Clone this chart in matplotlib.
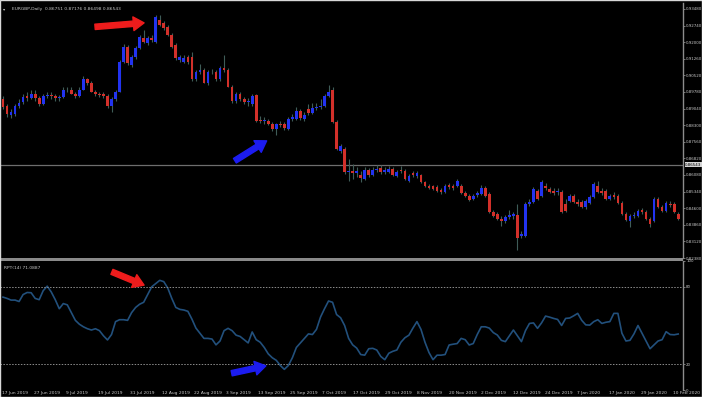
import numpy as np
import matplotlib
matplotlib.use('Agg')
import matplotlib.pyplot as plt
from matplotlib.patches import Rectangle

# ---- data (EURGBP daily, Jun 2019 - Feb 2020) ----
SYMBOL_TITLE = 'EURGBP,Daily  0.86751 0.87176 0.86498 0.86543'
OSC_TITLE = 'RPT(14) 71.0887'
LAST_PRICE = 0.8653
LAST_LABEL = '0.86543'

opens = [
    .8945, .8914, .8874, .8878, .8914, .8932, .8958, .8949, .8967, .8949,
    .8923, .8958, .8963, .8958, .8949, .8954, .8989, .8989, .8971, .8958,
    .8989, .9034, .9020, .8980, .8967, .8971, .8958, .8914, .8945, .8980,
    .9113, .9180, .9100, .9135, .9175, .9220, .9197, .9220, .9202, .9299,
    .9286, .9268, .9233, .9189, .9122, .9113, .9135, .9135, .9034, .9069,
    .9078, .9020, .9069, .9069, .9034, .9087, .9078, .9002, .8936, .8967,
    .8945, .8932, .8923, .8963, .8852, .8847, .8847, .8834, .8812, .8834,
    .8834, .8812, .8856, .8856, .8892, .8856, .8901, .8883, .8905, .8909,
    .8914, .8958, .8989, .8843, .8715, .8723, .8622, .8626, .8617, .8608,
    .8591, .8630, .8608, .8630, .8639, .8622, .8622, .8635, .8604, .8630,
    .8626, .8582, .8617, .8604, .8608, .8577, .8559, .8559, .8555, .8542,
    .8533, .8564, .8559, .8559, .8559, .8528, .8515, .8502, .8520, .8524,
    .8551, .8524, .8444, .8435, .8413, .8404, .8422, .8427, .8431, .8338,
    .8338, .8480, .8489, .8537, .8515, .8559, .8546, .8537, .8533, .8533,
    .8480, .8493, .8515, .8489, .8489, .8466, .8484, .8511, .8559, .8537,
    .8537, .8502, .8520, .8515, .8484, .8435, .8404, .8427, .8427, .8453,
    .8444, .8413, .8404, .8502, .8466, .8449, .8480, .8480, .8435,
]
highs = [
    .8958, .8923, .8901, .8923, .8945, .8967, .8976, .8989, .8989, .8958,
    .8967, .8976, .8976, .8967, .8963, .8998, .9002, .8998, .8980, .8998,
    .9047, .9042, .9029, .8989, .8980, .8980, .8967, .8954, .8989, .9122,
    .9193, .9189, .9144, .9184, .9233, .9255, .9228, .9233, .9321, .9321,
    .9295, .9277, .9242, .9197, .9144, .9144, .9144, .9158, .9078, .9104,
    .9087, .9078, .9082, .9078, .9096, .9144, .9087, .9011, .8976, .8976,
    .8954, .8949, .8967, .8971, .8870, .8865, .8856, .8843, .8839, .8847,
    .8843, .8865, .8878, .8909, .8901, .8887, .8923, .8927, .8927, .8945,
    .8967, .9007, .8998, .8852, .8746, .8732, .8679, .8657, .8644, .8626,
    .8644, .8639, .8644, .8653, .8653, .8644, .8648, .8644, .8630, .8648,
    .8635, .8613, .8626, .8626, .8613, .8582, .8568, .8564, .8564, .8551,
    .8568, .8573, .8568, .8591, .8568, .8537, .8524, .8524, .8537, .8564,
    .8559, .8533, .8453, .8444, .8427, .8431, .8453, .8444, .8480, .8360,
    .8489, .8502, .8555, .8546, .8586, .8573, .8555, .8551, .8551, .8542,
    .8502, .8524, .8524, .8502, .8497, .8502, .8520, .8577, .8582, .8551,
    .8546, .8524, .8533, .8524, .8493, .8444, .8435, .8444, .8458, .8462,
    .8453, .8422, .8511, .8511, .8475, .8493, .8493, .8489, .8444,
]
lows = [
    .8901, .8865, .8861, .8870, .8905, .8923, .8940, .8945, .8940, .8914,
    .8918, .8949, .8945, .8940, .8940, .8949, .8976, .8967, .8949, .8954,
    .8985, .9011, .8976, .8958, .8954, .8949, .8905, .8887, .8940, .8976,
    .9109, .9100, .9091, .9127, .9171, .9197, .9189, .9202, .9197, .9273,
    .9255, .9228, .9175, .9122, .9113, .9109, .9104, .9029, .9025, .9060,
    .9016, .9011, .9056, .9029, .9029, .9069, .8998, .8927, .8927, .8936,
    .8923, .8914, .8914, .8843, .8839, .8834, .8830, .8803, .8785, .8821,
    .8808, .8808, .8847, .8852, .8852, .8847, .8874, .8878, .8896, .8901,
    .8909, .8954, .8839, .8719, .8706, .8613, .8582, .8591, .8599, .8577,
    .8586, .8599, .8604, .8622, .8613, .8613, .8617, .8604, .8599, .8617,
    .8586, .8577, .8599, .8595, .8573, .8555, .8546, .8542, .8533, .8524,
    .8528, .8546, .8542, .8555, .8524, .8511, .8493, .8497, .8511, .8520,
    .8511, .8440, .8422, .8409, .8382, .8396, .8413, .8413, .8272, .8325,
    .8333, .8471, .8484, .8497, .8511, .8542, .8528, .8520, .8520, .8440,
    .8444, .8489, .8484, .8471, .8462, .8458, .8480, .8506, .8528, .8520,
    .8497, .8497, .8502, .8480, .8431, .8404, .8378, .8418, .8422, .8435,
    .8409, .8378, .8400, .8462, .8444, .8444, .8466, .8440, .8409,
]
closes = [
    .8909, .8878, .8887, .8914, .8927, .8954, .8949, .8967, .8949, .8923,
    .8958, .8963, .8958, .8949, .8954, .8989, .8985, .8971, .8958, .8989,
    .9034, .9020, .8980, .8967, .8963, .8958, .8914, .8945, .8980, .9113,
    .9180, .9109, .9135, .9175, .9224, .9202, .9220, .9211, .9313, .9277,
    .9264, .9233, .9180, .9131, .9135, .9131, .9113, .9034, .9065, .9078,
    .9020, .9069, .9065, .9034, .9087, .9078, .9002, .8936, .8967, .8945,
    .8932, .8936, .8958, .8847, .8847, .8852, .8834, .8812, .8834, .8830,
    .8816, .8856, .8865, .8892, .8861, .8874, .8883, .8905, .8909, .8914,
    .8958, .8980, .8843, .8723, .8737, .8622, .8626, .8617, .8626, .8595,
    .8630, .8608, .8630, .8635, .8622, .8630, .8635, .8608, .8622, .8626,
    .8591, .8604, .8608, .8617, .8577, .8559, .8551, .8546, .8537, .8533,
    .8559, .8555, .8551, .8582, .8528, .8515, .8497, .8515, .8528, .8551,
    .8515, .8444, .8427, .8413, .8404, .8422, .8431, .8435, .8325, .8347,
    .8480, .8489, .8546, .8502, .8577, .8551, .8533, .8528, .8537, .8444,
    .8449, .8515, .8489, .8480, .8466, .8493, .8511, .8568, .8533, .8528,
    .8502, .8515, .8511, .8484, .8435, .8409, .8427, .8431, .8449, .8444,
    .8413, .8391, .8502, .8466, .8449, .8484, .8475, .8444, .8413,
]
osc = [
    72, 71, 69.7, 69.7, 68.6, 74, 75.6, 75.4, 71, 70,
    77, 80.5, 76, 70, 63, 67, 66, 60, 54, 51,
    49, 47.5, 46.5, 47.5, 46, 42, 38.8, 43, 53, 54.5,
    54.5, 54, 60, 64, 66.5, 68, 74, 80, 82.5, 85,
    84, 79, 71, 64, 62.5, 62, 61, 55, 48, 44,
    40, 40, 39.5, 35, 38, 46, 47.8, 46, 42.5, 41.5,
    39, 36.5, 45, 39, 37, 33, 28, 25, 23, 19,
    16, 19, 25, 33, 36.5, 40, 43.5, 43, 47, 56.5,
    63, 69, 68, 58.5, 56, 50, 40, 35, 32.5, 27.5,
    27, 32, 32.3, 31, 26, 23.5, 28.5, 30, 31, 37,
    40.5, 42.5, 48, 53, 47, 37, 29, 23.5, 27, 27,
    27.5, 34.9, 35.5, 36, 40, 39, 34.9, 36, 43, 49,
    49, 48, 44.5, 42.6, 38.5, 37.5, 42, 46.5, 42, 37.5,
    46, 51.6, 52, 47.8, 52, 57.3, 56.5, 55.5, 54.7, 50,
    55.5, 55.8, 57.5, 59.4, 54, 50.5, 50.3, 53, 54.5, 51.6,
    52.5, 53, 59.4, 59.4, 44, 38, 38.5, 43.5, 50, 44,
    38, 32, 35, 38, 39, 45.2, 43, 42.8, 43.4,
]
price_ticks = [0.93480, 0.92740, 0.92000, 0.91260, 0.90520, 0.89780, 0.89040, 0.88300,
               0.87560, 0.86820, 0.86080, 0.85340, 0.84600, 0.83860, 0.83120, 0.82380]
osc_ticks = [100, 80, 20, 0]
osc_levels = [80, 20]
date_labels = ['17 Jun 2019', '27 Jun 2019', '9 Jul 2019', '19 Jul 2019', '31 Jul 2019',
               '12 Aug 2019', '22 Aug 2019', '3 Sep 2019', '13 Sep 2019', '25 Sep 2019',
               '7 Oct 2019', '17 Oct 2019', '29 Oct 2019', '8 Nov 2019', '20 Nov 2019',
               '2 Dec 2019', '12 Dec 2019', '24 Dec 2019', '7 Jan 2020', '17 Jan 2020',
               '29 Jan 2020', '10 Feb 2020']

BULL, BEAR, WICK = '#2233f0', '#d2302a', '#3f5c58'
GRID = '#8c8c8c'
TXT = '#c8c8c8'
FS = 3.2
W, H = 702, 397


def box(x0, y0, x1, y1):
    # pixel box -> figure fraction
    return [x0 / W, 1 - y1 / H, (x1 - x0) / W, (y1 - y0) / H]


def style(ax):
    ax.set_facecolor('black')
    for s in ('top', 'left', 'bottom'):
        ax.spines[s].set_visible(False)
    ax.spines['right'].set_color(GRID)
    ax.spines['right'].set_linewidth(1.0)
    ax.yaxis.tick_right()
    ax.tick_params(axis='y', colors=GRID, labelcolor=TXT, labelsize=2.9, length=1.5, width=0.6, pad=0.8)


def arrow(ax, tail, head, color):
    ax.annotate('', xy=head, xytext=tail, annotation_clip=False,
                arrowprops=dict(arrowstyle='simple,head_length=0.7,head_width=0.9,tail_width=0.35',
                                color=color, mutation_scale=11, shrinkA=0, shrinkB=0))


fig = plt.figure(figsize=(W / 100, H / 100), dpi=100, facecolor='black')
ax = fig.add_axes(box(0, 3, 683, 258))
ax2 = fig.add_axes(box(0, 261, 683, 390))
style(ax)
style(ax2)

o, h, l, c = (np.array(a) for a in (opens, highs, lows, closes))
x = np.arange(len(c))
cols = np.where(c >= o, BULL, BEAR)
ax.vlines(x, l, h, color=WICK, lw=0.8, zorder=2)
ax.bar(x, np.maximum(np.abs(c - o), 0.00012), bottom=np.minimum(o, c), width=0.68,
       color=cols, lw=0, zorder=3)
ax.axhline(LAST_PRICE, color='#6e6e6e', lw=0.9, zorder=1)
ax.text(1.003, LAST_PRICE, LAST_LABEL, transform=ax.get_yaxis_transform(), fontsize=2.9,
        color='black', va='center', ha='left',
        bbox=dict(boxstyle='square,pad=0.1', fc='#d6d6d6', ec='none'))

ax.set_xlim(-0.75, 169.2)
ax.set_ylim(0.82450, 0.93746)
ax.set_yticks(price_ticks)
ax.set_yticklabels([f'{v:.5f}' for v in price_ticks])
ax.set_xticks([])
ax.text(0.017, 0.985, SYMBOL_TITLE, transform=ax.transAxes, fontsize=FS, color=TXT, va='top')
ax.text(0.004, 0.985, '\u25be', transform=ax.transAxes, fontsize=FS, color=TXT, va='top')

arrow(ax, (22.9, 0.92683), (35.1, 0.92860), '#ee1c1c')
arrow(ax, (57.7, 0.86716), (65.6, 0.87602), '#1c1cf0')

# oscillator pane
ax2.plot(x, osc, color='#22507c', lw=1.2)
for lv in osc_levels:
    ax2.axhline(lv, color=GRID, lw=0.7, ls=(0, (1.5, 1.5)))
ax2.set_xlim(-0.75, 169.2)
ax2.set_ylim(0, 100)
ax2.set_yticks(osc_ticks)
ax2.set_yticklabels([str(v) for v in osc_ticks])
ax2.text(0.006, 0.965, OSC_TITLE, transform=ax2.transAxes, fontsize=FS, color=TXT, va='top')
arrow(ax2, (27.1, 91.6), (35.1, 81.3), '#ee1c1c')
arrow(ax2, (56.9, 13.0), (65.4, 18.7), '#1c1cf0')

date_step = 7.95
ax2.set_xticks(np.arange(len(date_labels)) * date_step - 0.25)
ax2.set_xticklabels(date_labels, ha='left')
ax2.tick_params(axis='x', colors=GRID, labelcolor=TXT, labelsize=FS, length=0, pad=1)

# pane separator and outer frame
fig.patches.append(Rectangle((0, 1 - 261 / H), 683 / W, 3 / H, transform=fig.transFigure,
                             fc='#8a8a8a', ec='none'))
fig.patches.append(Rectangle((0, 0), 1, 1, transform=fig.transFigure, fc='none',
                             ec='#d8d8d8', lw=1.0))

fig.savefig('out.png', dpi=100, facecolor='black')
